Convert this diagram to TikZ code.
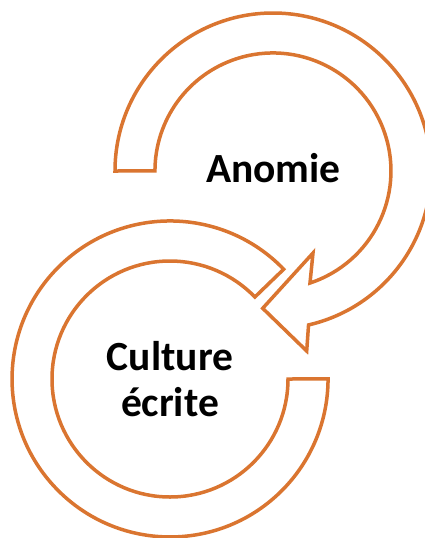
\documentclass[tikz,border=0pt]{standalone}
\usepackage{fontspec}
\setmainfont{Carlito}
\definecolor{arrowor}{RGB}{218,117,48}
\tikzset{
  cyclearrow/.style={draw=arrowor, line width=3.5pt, fill=white, line join=miter},
  cyclelabel/.style={font=\bfseries\fontsize{41.5}{46}\selectfont, text=black, align=center, inner sep=0pt}
}
\begin{document}
\begin{tikzpicture}[x=1pt,y=1pt]
\useasboundingbox (0,0) rectangle (425,-538);
% upper circular arrow (centre 273,-171)
\draw[cyclearrow] (115,-171)
  arc[start angle=180, end angle=-77, radius=158]
  -- (306.7,-351) -- (262.7,-308.3) -- (313,-253)
  -- (310,-283)
  arc[start angle=-71.7, end angle=180, radius=118] -- cycle;
% lower circular arrow (centre 170,-379)
\draw[cyclearrow] (283.7,-269.2)
  arc[start angle=44, end angle=360, radius=158]
  -- (288,-379)
  arc[start angle=360, end angle=44, radius=118] -- cycle;
\node[cyclelabel, anchor=base] (anomie) at (273.5,-182.7) {Anomie};
\node[cyclelabel, anchor=base] (culture) at (170,-416.7) {Culture\\écrite};
\end{tikzpicture}
\end{document}
